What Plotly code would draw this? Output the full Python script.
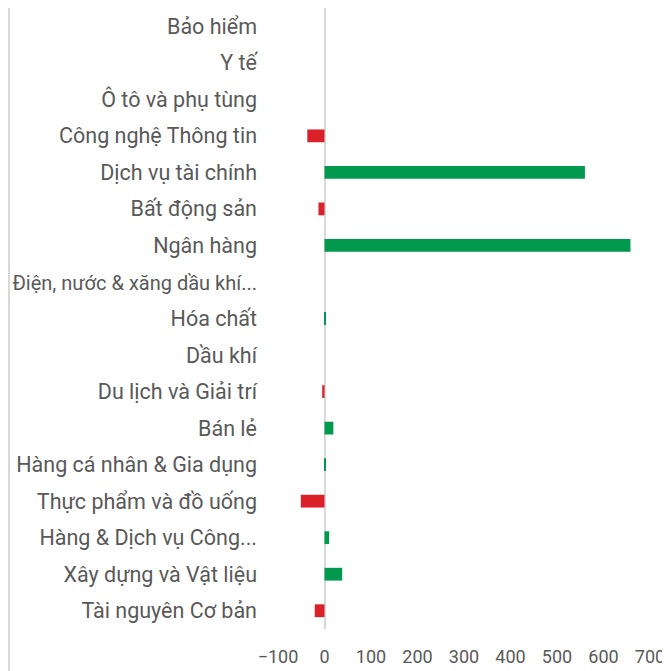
import plotly.graph_objects as go

categories = [
    "Bảo hiểm", "Y tế", "Ô tô và phụ tùng", "Công nghệ Thông tin",
    "Dịch vụ tài chính", "Bất động sản", "Ngân hàng",
    "Điện, nước & xăng dầu khí...", "Hóa chất", "Dầu khí",
    "Du lịch và Giải trí", "Bán lẻ", "Hàng cá nhân & Gia dụng",
    "Thực phẩm và đồ uống", "Hàng & Dịch vụ Công...",
    "Xây dựng và Vật liệu", "Tài nguyên Cơ bản",
]
values = [0, 0, 0, -37, 560, -13, 658, 0, 1.5, 0, -5, 19, 1.5, -51, 10, 38, -21]
tick_vals = [-100, 0, 100, 200, 300, 400, 500, 600, 700]

GREEN = "#00994D"
RED = "#DA2129"
colors = [GREEN if v >= 0 else RED for v in values]

# the longest label is set a touch smaller so it fits in the left margin
tick_text = [
    f'<span style="font-size:20px">{c}</span>' if c.startswith("Điện") else c
    for c in categories
]

# the page body adds an 8px offset, so the figure is sized to fit the window
W, H = 662, 663
ml, mr, mt, mb = 270, 20, 0, 42

fig = go.Figure(go.Bar(
    x=values, y=categories, orientation="h",
    marker=dict(color=colors, line=dict(width=0)),
))

fig.update_layout(
    width=W, height=H,
    margin=dict(l=ml, r=mr, t=mt, b=mb),
    paper_bgcolor="white", plot_bgcolor="white",
    bargap=0.65,
    showlegend=False,
    font=dict(family="Roboto", size=21.5, color="#595959"),
    xaxis=dict(
        range=[-100, 700], tickvals=tick_vals, automargin=False,
        showgrid=False, zeroline=True, zerolinecolor="#D9D9D9", zerolinewidth=2,
        showline=False, ticks="", ticklabelstandoff=15,
        ticklabeloverflow="allow",
        tickfont=dict(size=18, color="#595959"),
    ),
    yaxis=dict(
        categoryorder="array", categoryarray=categories[::-1], automargin=False,
        tickvals=categories, ticktext=tick_text,
        showgrid=False, showline=False, ticks="", ticklabelstandoff=20,
        ticklabeloverflow="allow",
        tickfont=dict(size=21.5, color="#595959"),
    ),
    shapes=[dict(
        type="line", xref="paper", yref="paper",
        x0=(1 - ml) / (W - ml - mr), x1=(1 - ml) / (W - ml - mr),
        y0=-mb / (H - mt - mb), y1=(H - mb) / (H - mt - mb),
        line=dict(color="#D9D9D9", width=2),
    )],
)

fig.write_html("out.html")
